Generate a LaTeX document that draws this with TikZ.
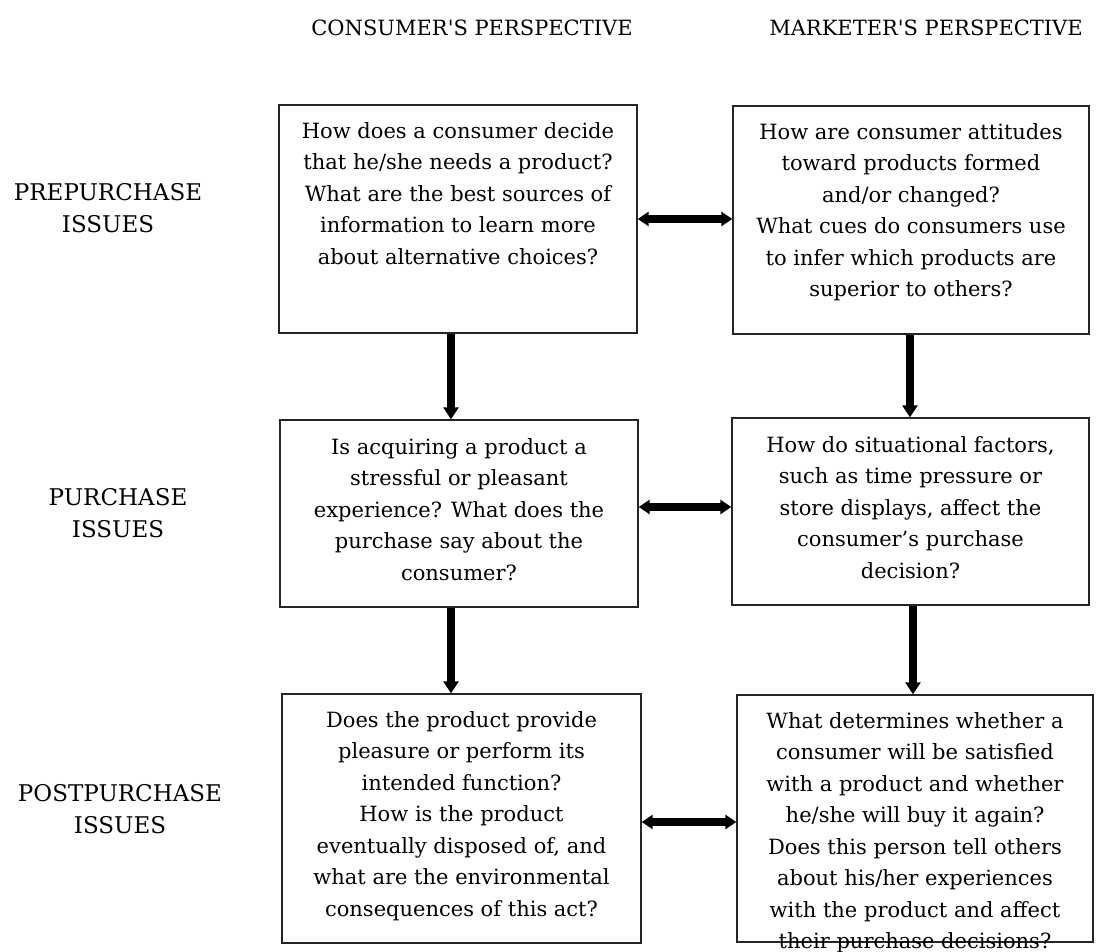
\documentclass[tikz,border=0pt]{standalone}
\usepackage{fontspec}
\setmainfont{DejaVu Serif}
\usetikzlibrary{arrows.meta}

\tikzset{
  qbox/.style={draw=black!85, line width=1.4pt, inner sep=0pt},
  qtext/.style={align=center, inner sep=0pt, anchor=base, font=\fontsize{21}{31.5}\selectfont},
  heading/.style={inner sep=0pt, anchor=base, font=\fontsize{21}{32}\selectfont},
  stage/.style={align=center, inner sep=0pt, anchor=base, font=\fontsize{23}{32}\selectfont},
  flow/.style={line width=8pt, -{Triangle[width=15pt,length=12pt]}},
  link/.style={line width=8pt, {Triangle[width=14pt,length=11pt]}-{Triangle[width=14pt,length=11pt]}}
}

\begin{document}
\begin{tikzpicture}[x=1pt, y=-1pt]
  \useasboundingbox (0,0) rectangle (1096,952);

  % Column headings
  \node[heading] (hcons) at (472,36) {CONSUMER\textquotesingle S PERSPECTIVE};
  \node[heading] (hmark) at (926,36) {MARKETER\textquotesingle S PERSPECTIVE};

  % Row headings (base = last line)
  \node[stage] (spre)  at (108,233) {PREPURCHASE\\ISSUES};
  \node[stage] (spur)  at (118,537) {PURCHASE\\ISSUES};
  \node[stage] (spost) at (120,833) {POSTPURCHASE\\ISSUES};

  % Boxes
  \node[qbox, minimum width=358, minimum height=228] (tl) at (458,219) {};
  \node[qbox, minimum width=356, minimum height=228] (tr) at (911,220) {};
  \node[qbox, minimum width=358, minimum height=187] (ml) at (459,513.5) {};
  \node[qbox, minimum width=357, minimum height=187] (mr) at (910.5,511.5) {};
  \node[qbox, minimum width=359, minimum height=249] (bl) at (461.5,818.5) {};
  \node[qbox, minimum width=356, minimum height=247] (br) at (915,818.5) {};

  % Questions (base = last line)
  \node[qtext] (tltext) at ([yshift=-160pt]tl.north) {How does a consumer decide\\that he/she needs a product?\\What are the best sources of\\information to learn more\\about alternative choices?};
  \node[qtext] (trtext) at ([yshift=-191.5pt]tr.north) {How are consumer attitudes\\toward products formed\\and/or changed?\\What cues do consumers use\\to infer which products are\\superior to others?};
  \node[qtext] (mltext) at ([yshift=-161pt]ml.north) {Is acquiring a product a\\stressful or pleasant\\experience? What does the\\purchase say about the\\consumer?};
  \node[qtext] (mrtext) at ([yshift=-161pt]mr.north) {How do situational factors,\\such as time pressure or\\store displays, affect the\\consumer’s purchase\\decision?};
  \node[qtext] (bltext) at ([yshift=-223pt]bl.north) {Does the product provide\\pleasure or perform its\\intended function?\\How is the product\\eventually disposed of, and\\what are the environmental\\consequences of this act?};
  \node[qtext] (brtext) at ([yshift=-254.5pt]br.north) {What determines whether a\\consumer will be satisfied\\with a product and whether\\he/she will buy it again?\\Does this person tell others\\about his/her experiences\\with the product and affect\\their purchase decisions?};

  % Down the columns
  \draw[flow] ([xshift=-7pt]tl.south) -- ([xshift=-7pt]tl.south |- ml.north);
  \draw[flow] ([xshift=-8pt]ml.south) -- ([xshift=-8pt]ml.south |- bl.north);
  \draw[flow] ([xshift=-1pt]tr.south) -- ([xshift=-1pt]tr.south |- mr.north);
  \draw[flow] ([xshift=2.5pt]mr.south) -- ([xshift=2.5pt]mr.south |- br.north);

  % Across the rows
  \draw[link] (tl.east) -- (tl.east -| tr.west);
  \draw[link] ([yshift=6.5pt]ml.east) -- ([yshift=6.5pt]ml.east -| mr.west);
  \draw[link] ([yshift=-3.5pt]bl.east) -- ([yshift=-3.5pt]bl.east -| br.west);
\end{tikzpicture}
\end{document}
